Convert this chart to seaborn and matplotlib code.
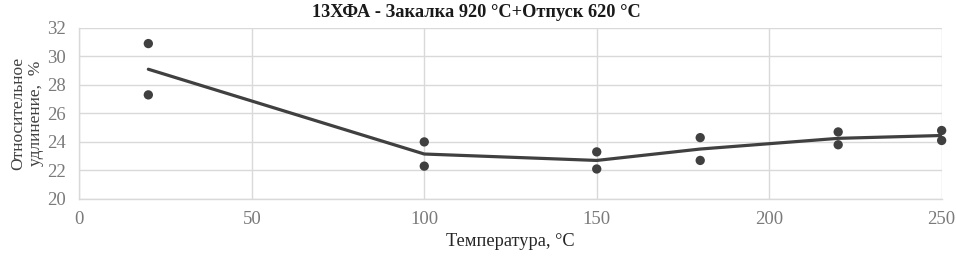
import matplotlib
matplotlib.use("Agg")
import matplotlib.pyplot as plt
import seaborn as sns
import pandas as pd

temps = [20, 20, 100, 100, 150, 150, 180, 180, 220, 220, 250, 250]
elong = [30.9, 27.3, 24.0, 22.3, 23.3, 22.1, 24.3, 22.7, 24.7, 23.8, 24.8, 24.1]
title = "13ХФА - Закалка 920 °C+Отпуск 620 °C"
xlabel = "Температура, °C"
ylabel = "Относительное\nудлинение,  %"

df = pd.DataFrame({"t": temps, "e": elong})

sns.set_theme(style="white")
plt.rcParams['font.family'] = ['Liberation Serif', 'DejaVu Serif']

fig, ax = plt.subplots(figsize=(9.56, 2.56), dpi=100)
fig.subplots_adjust(left=0.083, right=0.985, top=0.891, bottom=0.223)

sns.lineplot(data=df, x="t", y="e", estimator="mean", errorbar=None,
             color="#404040", linewidth=2.3, ax=ax, zorder=3)
sns.scatterplot(data=df, x="t", y="e", color="#404040", s=45,
                edgecolor="none", ax=ax, zorder=4, clip_on=False)

ax.set_xlim(0, 250)
ax.set_ylim(20, 32)
ax.set_xticks(range(0, 251, 50))
ax.set_yticks(range(20, 33, 2))
ax.grid(True, color="#d9d9d9", linewidth=1)
for s in ["top", "right"]:
    ax.spines[s].set_visible(False)
for s in ["bottom", "left"]:
    ax.spines[s].set_color("#d9d9d9")
    ax.spines[s].set_linewidth(1)
ax.tick_params(axis="both", length=0, labelsize=13.5, colors="#7a7a7a")
ax.tick_params(axis="x", pad=9)
ax.tick_params(axis="y", pad=10)

fig.suptitle(title, x=0.498, y=0.985, va="top", fontsize=13.2,
             fontweight="bold", color="#1a1a1a")
ax.set_xlabel(xlabel, fontsize=13.2, color="#262626", labelpad=3)
ax.set_ylabel(ylabel, fontsize=12.5, color="#404040", labelpad=2, linespacing=1.1)

fig.savefig("out.png", dpi=100)
